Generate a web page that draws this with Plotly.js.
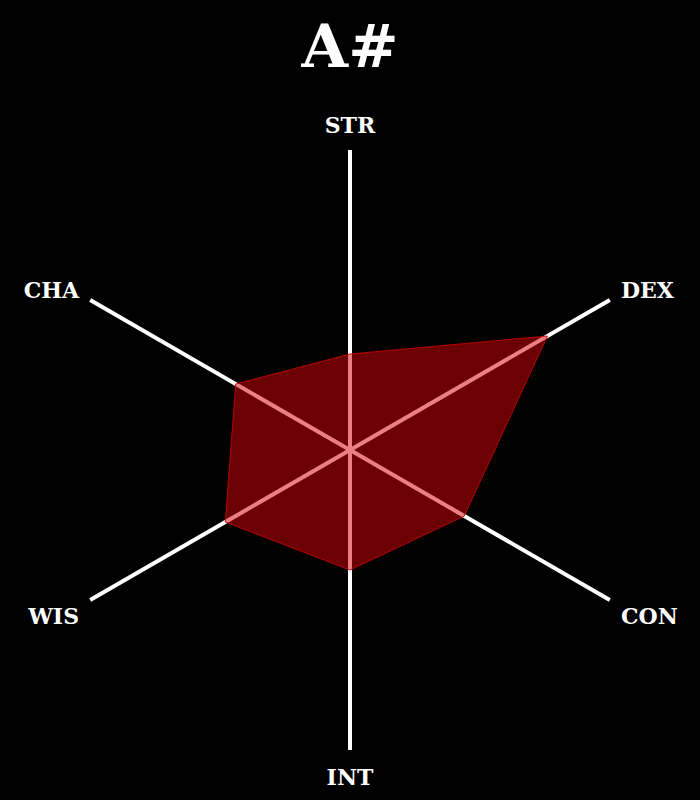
<!DOCTYPE html>
<html>
<head>
<meta charset="utf-8">
<script src="https://cdn.plot.ly/plotly-3.0.1.min.js"></script>
<style>html,body{margin:0;padding:0;background:#000;}#chart{width:700px;height:800px;}</style>
</head>
<body>
<div id="chart"></div>
<script>
const stats = ["STR", "DEX", "CON", "INT", "WIS", "CHA"];
const values = [8, 19, 11, 10, 12, 11];
const chartTitle = "A#";
const maxValue = 25;

const theta = stats.concat([stats[0]]);
const r = values.concat([values[0]]);

const fontFamily = "'DejaVu Serif', 'Liberation Serif', serif";

const trace = {
  type: "scatterpolar",
  r: r,
  theta: theta,
  mode: "lines",
  fill: "toself",
  fillcolor: "rgba(214,0,10,0.5)",
  line: {color: "rgba(200,0,0,0.9)", width: 1},
  hoverinfo: "skip"
};

const layout = {
  width: 700,
  height: 800,
  paper_bgcolor: "#000",
  plot_bgcolor: "#000",
  margin: {l: 0, r: 0, t: 0, b: 0},
  showlegend: false,
  title: {
    text: chartTitle,
    x: 0.5, xanchor: "center",
    y: 0.942, yanchor: "middle",
    font: {family: fontFamily, size: 60, color: "#fff", weight: "bold"}
  },
  polar: {
    domain: {x: [50/700, 650/700], y: [50/800, 650/800]},
    bgcolor: "#000",
    radialaxis: {visible: false, range: [0, maxValue], showgrid: false},
    angularaxis: {
      type: "category",
      rotation: 90,
      direction: "clockwise",
      showline: false,
      showgrid: true,
      gridcolor: "#fff",
      gridwidth: 4,
      ticks: "outside",
      ticklen: 8,
      tickcolor: "rgba(0,0,0,0)",
      tickfont: {family: fontFamily, size: 22, color: "#fff", weight: "bold"}
    }
  }
};

Plotly.newPlot("chart", [trace], layout, {displayModeBar: false, staticPlot: true});
</script>
</body>
</html>
